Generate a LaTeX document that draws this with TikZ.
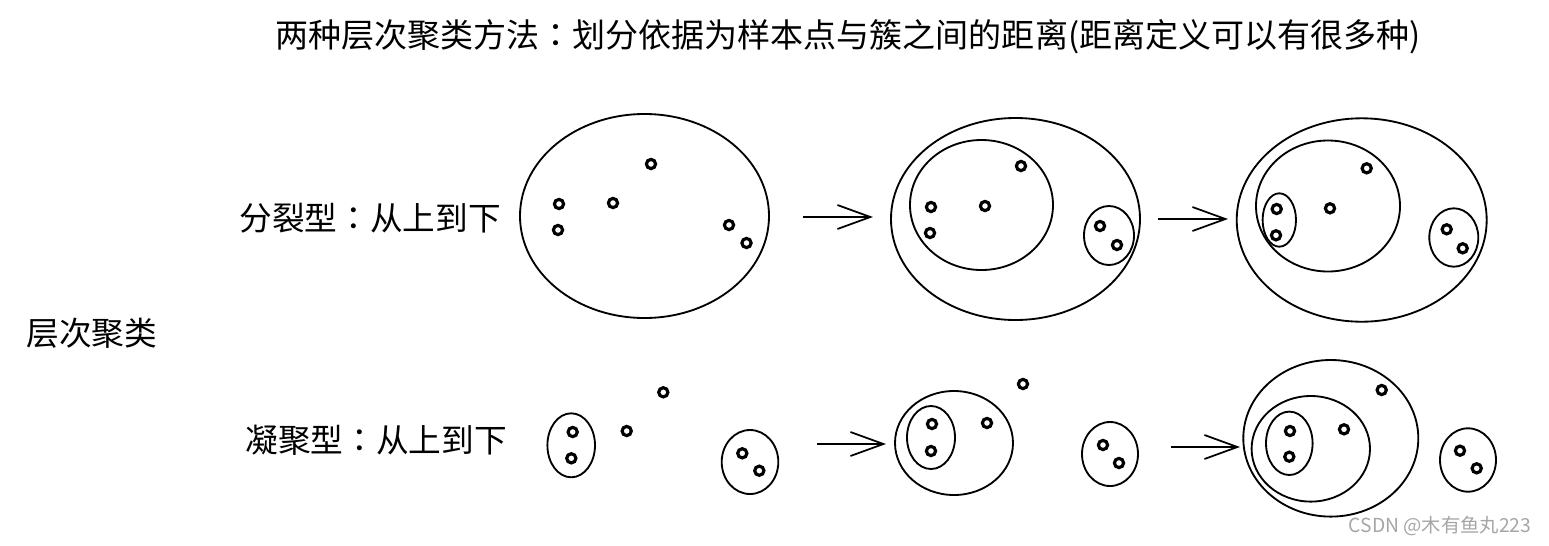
\documentclass[tikz,border=0pt]{standalone}
\usepackage{fontspec}
\setmainfont{Noto Sans CJK SC}
\newfontfamily\colonfont{Noto Sans CJK JP}
\newcommand{\cc}{{\colonfont ：}}
\usepackage{tikz}
\usetikzlibrary{arrows.meta}

\begin{document}
\begin{tikzpicture}[
    x=0.02cm, y=-0.02cm,
    lbl/.style={inner sep=0, font=\fontsize{18.6}{20}\selectfont},
    clu/.style={draw, line width=1.05pt},
    pt/.style={draw, line width=1.8pt},
    arr/.style={-{Straight Barb[length=0.66cm, width=0.48cm, line width=1pt]}, line width=1pt}
  ]
  \useasboundingbox (0,0) rectangle (1549,545);

  % texts
  \node[lbl, font=\fontsize{18.8}{20}\selectfont] (title) at (848,37) {两种层次聚类方法\cc 划分依据为样本点与簇之间的距离(距离定义可以有很多种)};
  \node[lbl, anchor=west] (root) at (26,333) {层次聚类};
  \node[lbl, anchor=west] (split) at (239,218) {分裂型\cc 从上到下};
  \node[lbl, anchor=west] (merge) at (245,440) {凝聚型\cc 从上到下};
  \node[inner sep=0, text=black!35, font=\fontsize{11}{12}\selectfont] (mark) at (1440,526) {CSDN @木有鱼丸223};

  % top row: divisive
  \draw[clu] (644.5,216) ellipse [x radius=124.5, y radius=102];
  \draw[clu] (1015.5,219) ellipse [x radius=124.5, y radius=101];
  \draw[clu] (981.5,205) ellipse [x radius=71.5, y radius=65];
  \draw[clu] (1109,235.5) ellipse [x radius=25, y radius=29.5];
  \draw[clu] (1361.7,220) ellipse [x radius=125, y radius=101.7];
  \draw[clu] (1328,206) ellipse [x radius=72, y radius=65.5];
  \draw[clu] (1279.3,220) ellipse [x radius=16.7, y radius=26.7];
  \draw[clu] (1453.8,237.5) ellipse [x radius=24.5, y radius=29.2];

  % bottom row: agglomerative
  \draw[clu] (571.2,445.3) ellipse [x radius=23.8, y radius=32];
  \draw[clu] (750,462) ellipse [x radius=28.3, y radius=32];
  \draw[clu] (954,443) ellipse [x radius=59, y radius=52];
  \draw[clu] (931,437.5) ellipse [x radius=24, y radius=31.5];
  \draw[clu] (1110,454) ellipse [x radius=28, y radius=32];
  \draw[clu] (1330.8,438.3) ellipse [x radius=87.5, y radius=78.3];
  \draw[clu] (1310.8,448.8) ellipse [x radius=59.2, y radius=52.8];
  \draw[clu] (1289.3,443.3) ellipse [x radius=23.3, y radius=31.7];
  \draw[clu] (1468,460) ellipse [x radius=28, y radius=31.7];

  % sample points
  \foreach \p in {(651,164),(559,204),(613,203),(558,230),(729,225),(746.5,243),
                  (1021,166),(931,207),(985,206),(930,233),(1100,226),(1117,245),
                  (1366.7,168.3),(1276.7,209),(1330,208.3),(1276,235.3),(1446.7,229.3),(1462.7,248.3),
                  (572.7,432),(571.3,458.3),(626.7,431),(663.3,392.3),(742.3,453.3),(759.3,470.7),
                  (932,424),(931,451),(987,423),(1023,384),(1103,445),(1119,463),
                  (1290,431),(1289.3,456.7),(1344,429.3),(1381.7,390),(1460,450.7),(1476.7,468.3)}
    \draw[pt] \p circle [radius=4.6];

  % arrows
  \coordinate (a1s) at (803,217);  \coordinate (a1e) at (873,217);
  \coordinate (a2s) at (1158,219); \coordinate (a2e) at (1228,219);
  \coordinate (a3s) at (817,444);  \coordinate (a3e) at (886,444);
  \coordinate (a4s) at (1171,447); \coordinate (a4e) at (1240,447);
  \draw[arr] (a1s) -- (a1e);
  \draw[arr] (a2s) -- (a2e);
  \draw[arr] (a3s) -- (a3e);
  \draw[arr] (a4s) -- (a4e);
\end{tikzpicture}
\end{document}
